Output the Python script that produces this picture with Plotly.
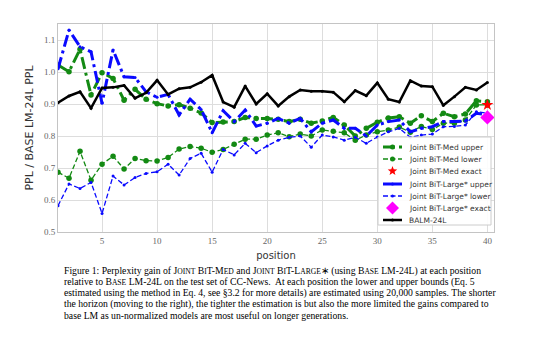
import math
import plotly.graph_objects as go

position = list(range(1, 41))

balm_24l = [0.904, 0.925, 0.938, 0.887, 0.950, 0.952, 0.958, 0.918, 0.935, 0.974,
            0.930, 0.948, 0.952, 0.968, 0.990, 0.906, 0.890, 0.956, 0.900, 0.932,
            0.894, 0.923, 0.944, 0.940, 0.940, 0.937, 0.907, 0.942, 0.926, 0.966,
            0.915, 0.906, 0.973, 0.956, 0.954, 0.896, 0.923, 0.952, 0.944, 0.967]

med_upper = [1.022, 1.001, 1.071, 0.928, 0.998, 0.980, 0.912, 0.946, 0.915, 0.901,
             0.894, 0.898, 0.887, 0.872, 0.842, 0.844, 0.845, 0.858, 0.855, 0.855,
             0.852, 0.845, 0.852, 0.840, 0.847, 0.858, 0.834, 0.800, 0.824, 0.843,
             0.856, 0.860, 0.840, 0.863, 0.845, 0.871, 0.860, 0.869, 0.910, 0.907]

med_lower = [0.687, 0.668, 0.752, 0.662, 0.712, 0.737, 0.697, 0.730, 0.723, 0.722,
             0.733, 0.759, 0.767, 0.762, 0.749, 0.758, 0.774, 0.790, 0.790, 0.803,
             0.810, 0.798, 0.806, 0.800, 0.819, 0.815, 0.810, 0.787, 0.803, 0.813,
             0.819, 0.828, 0.812, 0.830, 0.820, 0.840, 0.840, 0.850, 0.897, 0.897]

large_upper = [1.010, 1.131, 1.079, 1.063, 0.902, 1.069, 0.985, 0.983, 0.938, 0.921,
               0.930, 0.866, 0.915, 0.883, 0.810, 0.879, 0.845, 0.881, 0.831, 0.840,
               0.855, 0.840, 0.855, 0.813, 0.840, 0.850, 0.824, 0.824, 0.800, 0.834,
               0.845, 0.850, 0.813, 0.824, 0.829, 0.845, 0.845, 0.847, 0.871, 0.866]

large_lower = [0.582, 0.650, 0.636, 0.655, 0.558, 0.675, 0.647, 0.670, 0.683, 0.688,
               0.712, 0.678, 0.730, 0.746, 0.687, 0.758, 0.741, 0.777, 0.748, 0.769,
               0.787, 0.796, 0.800, 0.765, 0.803, 0.797, 0.787, 0.796, 0.777, 0.797,
               0.813, 0.824, 0.796, 0.803, 0.806, 0.829, 0.830, 0.834, 0.876, 0.871]

med_exact = [0.897]
large_exact = [0.858]
exact_pos = [40]

x_ticks = [5, 10, 15, 20, 25, 30, 35, 40]
y_ticks = [0.5, 0.6, 0.7, 0.8, 0.9, 1.0, 1.1]

legend_names = ["Joint BiT-Med upper", "Joint BiT-Med lower", "Joint BiT-Med exact",
                "Joint BiT-Large* upper", "Joint BiT-Large* lower", "Joint BiT-Large* exact",
                "BALM-24L"]

green = "#138a13"
blue = "#0a0aff"
upper_dash = "12px,4px,3px,4px"
lower_dash = "5px,2.5px"

# plot area in pixels (used for the hand-drawn legend box)
L, R, T, B = 58, 494, 24, 232


def px(x):
    return (x - L) / (R - L)


def py(y):
    return (B - y) / (B - T)


fig = go.Figure()
fig.add_trace(go.Scatter(x=position, y=med_upper, mode="lines+markers",
                         line=dict(color=green, width=3, dash=upper_dash),
                         marker=dict(size=5.5, color=green)))
fig.add_trace(go.Scatter(x=position, y=med_lower, mode="lines+markers",
                         line=dict(color=green, width=1.3, dash=lower_dash),
                         marker=dict(size=5.5, color=green)))
fig.add_trace(go.Scatter(x=exact_pos, y=med_exact, mode="markers",
                         marker=dict(symbol="star", size=9, color="red")))
fig.add_trace(go.Scatter(x=position, y=large_upper, mode="lines+markers",
                         line=dict(color=blue, width=3, dash=upper_dash),
                         marker=dict(size=3, color=blue)))
fig.add_trace(go.Scatter(x=position, y=large_lower, mode="lines+markers",
                         line=dict(color=blue, width=1.3, dash=lower_dash),
                         marker=dict(size=3, color=blue)))
fig.add_trace(go.Scatter(x=exact_pos, y=large_exact, mode="markers",
                         marker=dict(symbol="diamond", size=11, color="magenta")))
fig.add_trace(go.Scatter(x=position, y=balm_24l, mode="lines+markers",
                         line=dict(color="black", width=2.5),
                         marker=dict(size=3, color="black")))

axis_common = dict(showgrid=True, gridcolor="#dddddd", gridwidth=1,
                   showline=True, linecolor="#c4c4c4", linewidth=1, mirror=True,
                   zeroline=False, ticks="", automargin=False,
                   tickfont=dict(family="Liberation Serif", size=9, color="#666666"))

fig.update_xaxes(range=[1, 40.6], tickvals=x_ticks, **axis_common,
                 title=dict(text="position", standoff=7,
                            font=dict(family="DejaVu Sans", size=10, color="#333333")))
fig.update_yaxes(range=[0.5, 1.15], tickvals=y_ticks, tickformat=".1f", **axis_common,
                 title=dict(text="PPL / BASE LM-24L PPL", standoff=8,
                            font=dict(family="DejaVu Sans", size=11, color="#333333")))

# legend, drawn by hand so its rows can be as tight as matplotlib's
fig.add_shape(type="rect", xref="paper", yref="paper",
              x0=px(378), x1=px(491), y0=py(225), y1=py(137),
              line=dict(color="#cccccc", width=1), fillcolor="rgba(255,255,255,0.9)")
row_y = [147, 159, 171, 184, 196, 208, 220]
styles = [(green, 3, upper_dash, 5), (green, 1.3, lower_dash, 5), None,
          (blue, 3, "solid", 3), (blue, 1.3, lower_dash, 3), None,
          ("black", 2.5, "solid", 3)]
for name, yy, st in zip(legend_names, row_y, styles):
    if st is not None:
        col, w, dash, ms = st
        fig.add_shape(type="line", xref="paper", yref="paper",
                      x0=px(383), x1=px(402), y0=py(yy), y1=py(yy),
                      line=dict(color=col, width=w, dash=dash))
        fig.add_shape(type="circle", xref="paper", yref="paper",
                      xsizemode="pixel", ysizemode="pixel",
                      xanchor=px(392.5), yanchor=py(yy),
                      x0=-ms / 2, x1=ms / 2, y0=-ms / 2, y1=ms / 2,
                      line=dict(width=0), fillcolor=col)
    fig.add_annotation(text=name, xref="paper", yref="paper", x=px(407), y=py(yy),
                       xanchor="left", yanchor="middle", showarrow=False,
                       font=dict(family="DejaVu Sans", size=7.5, color="#333333"))

# star and diamond glyphs for the two "exact" rows
star_pts = []
for k in range(10):
    r = 5 if k % 2 == 0 else 2.1
    a = math.pi / 2 + k * math.pi / 5
    star_pts.append(f"{r * math.cos(a):.2f},{r * math.sin(a):.2f}")
fig.add_shape(type="path", xref="paper", yref="paper", xsizemode="pixel", ysizemode="pixel",
              xanchor=px(392.5), yanchor=py(row_y[2]),
              path="M" + " L".join(star_pts) + " Z",
              line=dict(width=0), fillcolor="red")
fig.add_shape(type="path", xref="paper", yref="paper", xsizemode="pixel", ysizemode="pixel",
              xanchor=px(392.5), yanchor=py(row_y[5]),
              path="M0,6.5 L6.5,0 L0,-6.5 L-6.5,0 Z",
              line=dict(width=0), fillcolor="magenta")

sc = "<span style='font-size:7.6px'>"
caption_lines = [
    "Figure 1: Perplexity gain of J" + sc + "OINT</span> B" + sc + "I</span>T-M" + sc + "ED</span>"
    " and J" + sc + "OINT</span> B" + sc + "I</span>T-L" + sc + "ARGE</span>\u2217 (using B" + sc + "ASE</span>"
    " LM-24L) at each position",
    "relative to B" + sc + "ASE</span> LM-24L on the test set of CC-News.  At each position the lower and upper bounds (Eq. 5",
    "estimated using the method in Eq. 4, see \u00a73.2 for more details) are estimated using 20,000 samples. The shorter",
    "the horizon (moving to the right), the tighter the estimation is but also the more limited the gains compared to",
    "base LM as un-normalized models are most useful on longer generations.",
]
caption_y = [271, 282, 293, 304, 315]
for line, yy in zip(caption_lines, caption_y):
    fig.add_annotation(text=line, xref="paper", yref="paper", x=px(62), y=py(yy),
                       xanchor="left", yanchor="middle", align="left", showarrow=False,
                       font=dict(family="Liberation Serif", size=9.7, color="black"))

fig.update_layout(
    width=540, height=344,
    margin=dict(l=L, r=540 - R, t=T, b=344 - B),
    paper_bgcolor="white", plot_bgcolor="white",
    showlegend=False,
)

fig.write_html("out.html", config={"displayModeBar": False},
               post_script="document.body.style.margin='0px';")
